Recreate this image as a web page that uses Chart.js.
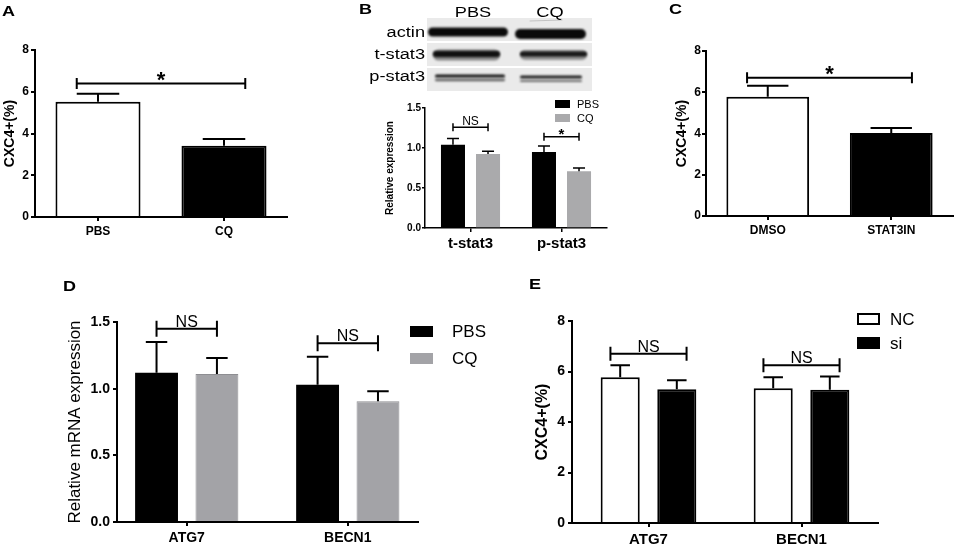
<!DOCTYPE html>
<html>
<head>
<meta charset="utf-8">
<script src="https://cdn.jsdelivr.net/npm/chart.js@4.4.1/dist/chart.umd.min.js"></script>
<style>
  body { margin: 0; background: #fff; }
  #fig { position: relative; width: 957px; height: 548px; overflow: hidden; font-family: 'Liberation Sans', Arial, sans-serif; }
  #fig canvas { position: absolute; }
  .letter { position: absolute; font-weight: bold; font-size: 15px; line-height: 15px; transform: scaleX(1.2); transform-origin: left top; }
</style>
</head>
<body>
<div id="fig">
  <canvas id="blot" width="240" height="95" style="left:360px;top:0px"></canvas>
  <canvas id="chartA" width="300" height="250" style="left:0px;top:0px"></canvas>
  <canvas id="chartB" width="300" height="160" style="left:320px;top:95px"></canvas>
  <canvas id="chartC" width="337" height="250" style="left:620px;top:0px"></canvas>
  <canvas id="chartD" width="500" height="258" style="left:0px;top:290px"></canvas>
  <canvas id="chartE" width="477" height="258" style="left:480px;top:290px"></canvas>
  <div class="letter" style="left:2px;top:3px">A</div>
  <div class="letter" style="left:359px;top:1px">B</div>
  <div class="letter" style="left:669px;top:1px">C</div>
  <div class="letter" style="left:63px;top:278px">D</div>
  <div class="letter" style="left:529px;top:276px">E</div>
</div>
<script>
// ---- data ----
// A: CXC4+ after PBS / CQ
const aLabels = ['PBS', 'CQ'];
const aValues = [5.52, 3.41];
const aErrors = [0.38, 0.33];
const aSig = [6.4];
const aSigText = ['*'];

// B: western blot quantification
const bLabels = ['t-stat3', 'p-stat3'];
const bSeries = ['PBS', 'CQ'];
const bPBS = [1.04, 0.95];
const bPBSErr = [0.08, 0.075];
const bCQ = [0.925, 0.71];
const bCQErr = [0.035, 0.04];
const bSig = [1.26, 1.14];
const bSigText = ['NS', '*'];

// C: CXC4+ after DMSO / STAT3 inhibitor
const cLabels = ['DMSO', 'STAT3IN'];
const cValues = [5.78, 4.03];
const cErrors = [0.53, 0.24];
const cSig = [6.7];
const cSigText = ['*'];

// D: relative mRNA expression
const dLabels = ['ATG7', 'BECN1'];
const dSeries = ['PBS', 'CQ'];
const dPBS = [1.12, 1.03];
const dPBSErr = [0.23, 0.21];
const dCQ = [1.11, 0.905];
const dCQErr = [0.12, 0.075];
const dSig = [1.45, 1.34];
const dSigText = ['NS', 'NS'];

// E: CXC4+ after siRNA
const eLabels = ['ATG7', 'BECN1'];
const eSeries = ['NC', 'si'];
const eNC = [5.77, 5.34];
const eNCErr = [0.48, 0.43];
const eSi = [5.3, 5.28];
const eSiErr = [0.35, 0.52];
const eSig = [6.7, 6.25];
const eSigText = ['NS', 'NS'];

const FONT = "'Liberation Sans', Arial, sans-serif";
Chart.defaults.font.family = FONT;
Chart.defaults.color = '#000';

// error bars (upper only), significance brackets and a small legend
function figurePlugin(s) {
    return {
        id: 'figure',
        afterDatasetsDraw(chart) {
            const ctx = chart.ctx;
            const yScale = chart.scales.y;
            ctx.save();
            ctx.strokeStyle = '#000';
            ctx.lineWidth = s.line;

            chart.data.datasets.forEach((ds, di) => {
                if (!ds.errors) return;
                chart.getDatasetMeta(di).data.forEach((bar, i) => {
                    const raw = ds.data[i];
                    const v = typeof raw === 'object' ? raw.y : raw;
                    const top = yScale.getPixelForValue(v + ds.errors[i]);
                    const half = bar.width / 4;
                    ctx.beginPath();
                    ctx.moveTo(bar.x, bar.y);
                    ctx.lineTo(bar.x, top);
                    ctx.moveTo(bar.x - half, top);
                    ctx.lineTo(bar.x + half, top);
                    ctx.stroke();
                });
            });

            const br = s.brackets;
            const metas = chart.data.datasets.map((d, i) => chart.getDatasetMeta(i).data);
            br.levels.forEach((level, i) => {
                const a = metas.length > 1 ? metas[0][i] : metas[0][0];
                const b = metas.length > 1 ? metas[1][i] : metas[0][1];
                const x1 = a.x - a.width * br.extend / 4;
                const x2 = b.x + b.width * br.extend / 4;
                const y = yScale.getPixelForValue(level);
                ctx.beginPath();
                ctx.moveTo(x1, y - br.half);
                ctx.lineTo(x1, y + br.half);
                ctx.moveTo(x1, y);
                ctx.lineTo(x2, y);
                ctx.moveTo(x2, y - br.half);
                ctx.lineTo(x2, y + br.half);
                ctx.stroke();
                const star = br.texts[i] === '*';
                ctx.font = star ? br.starFont : br.font;
                ctx.fillStyle = '#000';
                ctx.textAlign = 'center';
                ctx.textBaseline = 'alphabetic';
                ctx.fillText(br.texts[i], (x1 + x2) / 2, y + (star ? br.starOffset : br.textOffset));
            });

            const lg = s.legend;
            if (lg) {
                chart.data.datasets.forEach((ds, i) => {
                    const y = lg.y + i * lg.gap;
                    ctx.fillStyle = ds.backgroundColor;
                    ctx.fillRect(lg.x, y, lg.w, lg.h);
                    if (lg.stroke) {
                        ctx.lineWidth = 2;
                        ctx.strokeStyle = ds.borderColor;
                        ctx.strokeRect(lg.x + 1, y + 1, lg.w - 2, lg.h - 2);
                    }
                    ctx.fillStyle = '#000';
                    ctx.font = lg.font;
                    ctx.textAlign = 'left';
                    ctx.textBaseline = 'middle';
                    ctx.fillText(ds.label, lg.textX, y + lg.h / 2 + 1);
                });
            }
            ctx.restore();
        }
    };
}

function yAxis(o) {
    return {
        min: o.min,
        max: o.max,
        ticks: { stepSize: o.step, font: { size: o.tickSize, weight: 'bold' }, padding: o.pad, callback: o.fmt },
        grid: { drawOnChartArea: false, drawTicks: true, tickLength: o.tickLen, color: '#000', lineWidth: o.line },
        border: { display: true, color: '#000', width: o.line },
        title: { display: true, text: o.title, padding: 0, font: { size: o.titleSize, weight: o.titleWeight, lineHeight: 1.2 } },
        afterFit: (s) => { s.width = o.width; }
    };
}

function xAxis(o) {
    return {
        ticks: { font: { size: o.size, weight: 'bold' }, padding: o.pad, maxRotation: 0, autoSkip: false },
        grid: { offset: false, drawOnChartArea: false, drawTicks: true, tickLength: 4, color: '#000', lineWidth: o.line },
        border: { display: true, color: '#000', width: o.line },
        afterFit: (s) => { s.height = o.height; }
    };
}

function baseOptions(padding, x, y) {
    return {
        responsive: false,
        animation: false,
        layout: { padding },
        plugins: { legend: { display: false }, tooltip: { enabled: false } },
        scales: { x, y }
    };
}

const oneDec = (v) => v.toFixed(1);

// ---- A ----
new Chart(document.getElementById('chartA'), {
    type: 'bar',
    data: {
        labels: aLabels,
        datasets: [{
            data: aValues, errors: aErrors,
            backgroundColor: ['#fff', '#000'], borderColor: '#000', borderWidth: 2,
            barPercentage: 0.675, categoryPercentage: 1
        }]
    },
    options: baseOptions({ left: 2, top: 50, right: 13, bottom: 8 },
        xAxis({ size: 12, pad: 3, line: 2, height: 25 }),
        yAxis({ min: 0, max: 8, step: 2, tickSize: 12, pad: 2, tickLen: 4, line: 2, width: 33,
                title: 'CXC4+(%)', titleSize: 14, titleWeight: 'bold' })),
    plugins: [figurePlugin({ line: 2,
        brackets: { levels: aSig, texts: aSigText, extend: 1, half: 5.5, font: '16px ' + FONT,
                    starFont: 'bold 22px ' + FONT, starOffset: 4, textOffset: -2 } })]
});

// ---- B ----
new Chart(document.getElementById('chartB'), {
    type: 'bar',
    data: {
        labels: bLabels,
        datasets: [
            { label: bSeries[0], data: bPBS, errors: bPBSErr, backgroundColor: '#000', barPercentage: 0.686, categoryPercentage: 0.77 },
            { label: bSeries[1], data: bCQ, errors: bCQErr, backgroundColor: '#aaaaac', barPercentage: 0.686, categoryPercentage: 0.77 }
        ]
    },
    options: baseOptions({ left: 64, top: 13, right: 13, bottom: 0 },
        xAxis({ size: 15, pad: 3, line: 1.5, height: 27 }),
        yAxis({ min: 0, max: 1.5, step: 0.5, tickSize: 10, pad: 1, tickLen: 3, line: 1.5, width: 41, fmt: oneDec,
                title: 'Relative expression', titleSize: 10, titleWeight: 'bold' })),
    plugins: [figurePlugin({ line: 1.5,
        brackets: { levels: bSig, texts: bSigText, extend: 0, half: 4, font: '12px ' + FONT,
                    starFont: 'bold 15px ' + FONT, starOffset: 2, textOffset: -2 },
        legend: { x: 235, y: 5, w: 15, h: 8, gap: 14, textX: 257, font: '11px ' + FONT } })]
});

// ---- C ----
new Chart(document.getElementById('chartC'), {
    type: 'bar',
    data: {
        labels: cLabels,
        datasets: [{
            data: cValues, errors: cErrors,
            backgroundColor: ['#fff', '#000'], borderColor: '#000', borderWidth: 2,
            barPercentage: 0.67, categoryPercentage: 1
        }]
    },
    options: baseOptions({ left: 54, top: 51, right: 4, bottom: 9 },
        xAxis({ size: 12, pad: 3, line: 2, height: 25 }),
        yAxis({ min: 0, max: 8, step: 2, tickSize: 12, pad: 1, tickLen: 4, line: 2, width: 32,
                title: 'CXC4+(%)', titleSize: 14, titleWeight: 'bold' })),
    plugins: [figurePlugin({ line: 2,
        brackets: { levels: cSig, texts: cSigText, extend: 1, half: 5.5, font: '16px ' + FONT,
                    starFont: 'bold 22px ' + FONT, starOffset: 3, textOffset: -2 } })]
});

// ---- D ---- (linear index axis so the groups sit where the original puts them)
const dx = xAxis({ size: 14, pad: 4, line: 2, height: 26 });
dx.type = 'linear';
dx.offset = false;
dx.min = -0.433;
dx.max = 1.436;
dx.ticks.stepSize = 1;
dx.ticks.includeBounds = false;
dx.ticks.callback = (v) => dLabels[v];
new Chart(document.getElementById('chartD'), {
    type: 'bar',
    data: {
        datasets: [
            { label: dSeries[0], data: dPBS.map((v, i) => ({ x: i, y: v })), errors: dPBSErr,
              backgroundColor: '#000', barPercentage: 0.71, categoryPercentage: 0.75 },
            { label: dSeries[1], data: dCQ.map((v, i) => ({ x: i, y: v })), errors: dCQErr,
              backgroundColor: '#a3a3a7', borderColor: '#8e8e92', borderWidth: 1, borderSkipped: 'bottom',
              barPercentage: 0.71, categoryPercentage: 0.75 }
        ]
    },
    options: baseOptions({ left: 65, top: 32, right: 82, bottom: 0 }, dx,
        yAxis({ min: 0, max: 1.5, step: 0.5, tickSize: 14, pad: 3, tickLen: 4, line: 2, width: 52, fmt: oneDec,
                title: 'Relative mRNA expression', titleSize: 17, titleWeight: 'normal' })),
    plugins: [figurePlugin({ line: 2,
        brackets: { levels: dSig, texts: dSigText, extend: 0, half: 8, font: '16px ' + FONT,
                    starFont: 'bold 22px ' + FONT, starOffset: 3, textOffset: -2 },
        legend: { x: 410, y: 36, w: 23, h: 11, gap: 27, textX: 452, font: '17px ' + FONT } })]
});

// ---- E ----
new Chart(document.getElementById('chartE'), {
    type: 'bar',
    data: {
        labels: eLabels,
        datasets: [
            { label: eSeries[0], data: eNC, errors: eNCErr, backgroundColor: '#fff', borderColor: '#000', borderWidth: 2,
              barPercentage: 0.69, categoryPercentage: 0.74 },
            { label: eSeries[1], data: eSi, errors: eSiErr, backgroundColor: '#000', borderColor: '#000', borderWidth: 2,
              barPercentage: 0.69, categoryPercentage: 0.74 }
        ]
    },
    options: baseOptions({ left: 53, top: 31, right: 79, bottom: 0 },
        xAxis({ size: 15, pad: 4, line: 2, height: 25 }),
        yAxis({ min: 0, max: 8, step: 2, tickSize: 14, pad: 3, tickLen: 4, line: 2, width: 39,
                title: 'CXC4+(%)', titleSize: 16, titleWeight: 'bold' })),
    plugins: [figurePlugin({ line: 2,
        brackets: { levels: eSig, texts: eSigText, extend: 1, half: 7, font: '16px ' + FONT,
                    starFont: 'bold 22px ' + FONT, starOffset: 3, textOffset: -2 },
        legend: { x: 377, y: 23, w: 23, h: 12, gap: 24, textX: 410, font: '17px ' + FONT, stroke: true } })]
});

// ---- blot picture for panel B ----
function drawBlot() {
    const c = document.getElementById('blot').getContext('2d');
    const ox = 360;

    // membrane strips
    [[18, 41], [43, 66], [68, 91]].forEach(([y1, y2]) => {
        c.fillStyle = '#eaeaea';
        c.fillRect(427 - ox, y1, 165, y2 - y1);
    });

    // bands: [x1, x2, centre y, thickness, darkness]
    const bands = [
        [428, 508, 32, 9, 1.0], [515, 586, 34, 10, 1.0],
        [433, 500, 55, 11, 0.45], [433, 500, 54, 6, 0.95],
        [520, 587, 55, 10, 0.4], [520, 587, 54, 5, 0.9],
        [435, 505, 76, 3, 0.95], [435, 505, 80, 2.5, 0.6],
        [520, 582, 77, 3, 0.9], [520, 582, 81, 2, 0.55]
    ];
    c.filter = 'blur(1.3px)';
    c.lineCap = 'round';
    bands.forEach(([x1, x2, y, h, d]) => {
        c.strokeStyle = 'rgba(10,10,10,' + d + ')';
        c.lineWidth = h;
        c.beginPath();
        c.moveTo(x1 - ox + h / 2, y);
        c.lineTo(x2 - ox - h / 2, y);
        c.stroke();
    });
    c.filter = 'none';

    // faint smear on top of CQ actin lane
    c.strokeStyle = 'rgba(120,120,120,0.35)';
    c.lineWidth = 1;
    c.beginPath();
    c.moveTo(530 - ox, 21);
    c.lineTo(562 - ox, 20);
    c.stroke();

    function label(text, x, y, align) {
        c.save();
        c.font = '14px ' + FONT;
        c.fillStyle = '#000';
        c.textAlign = align;
        c.translate(x - ox, y);
        c.scale(1.3, 1);
        c.fillText(text, 0, 0);
        c.restore();
    }
    label('PBS', 473, 17, 'center');
    label('CQ', 550, 17, 'center');
    label('actin', 425, 37, 'right');
    label('t-stat3', 425, 59, 'right');
    label('p-stat3', 425, 81, 'right');
}
drawBlot();
</script>
</body>
</html>
